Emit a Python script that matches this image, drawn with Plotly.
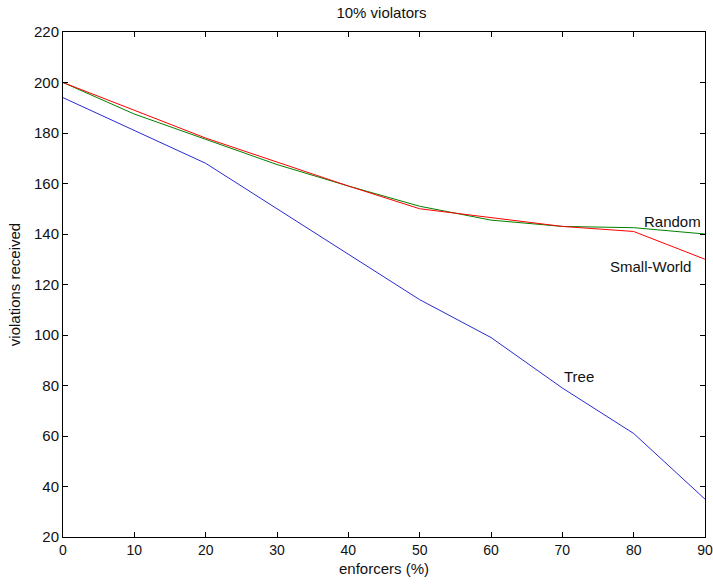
import plotly.graph_objects as go

enforcers = [0, 10, 20, 30, 40, 50, 60, 70, 80, 90]
random_net = [200, 187.5, 177.5, 167.5, 159, 151, 145.5, 143, 142.5, 140]
small_world = [200, 189, 178, 168.5, 159, 150, 146.5, 143, 141, 130]
tree = [194, 181, 168, 150, 132, 114, 99, 79, 61, 35]

x_ticks = [0, 10, 20, 30, 40, 50, 60, 70, 80, 90]
y_ticks = [20, 40, 60, 80, 100, 120, 140, 160, 180, 200, 220]

font_family = "Liberation Sans, Arial, sans-serif"
FS = 15

fig = go.Figure()
fig.add_trace(go.Scatter(x=enforcers, y=tree, mode="lines",
                         line=dict(color="#2a2ad0", width=1), name="Tree"))
fig.add_trace(go.Scatter(x=enforcers, y=random_net, mode="lines",
                         line=dict(color="#008000", width=1), name="Random"))
fig.add_trace(go.Scatter(x=enforcers, y=small_world, mode="lines",
                         line=dict(color="#ff0000", width=1), name="Small-World"))

annotations = [
    dict(x=85.4, y=145.0, text="Random"),
    dict(x=82.3, y=127.2, text="Small-World"),
    dict(x=72.3, y=83.4, text="Tree"),
]
for a in annotations:
    fig.add_annotation(x=a["x"], y=a["y"], text=a["text"], showarrow=False,
                       xref="x", yref="y",
                       font=dict(family=font_family, size=FS, color="#111"))

axis_common = dict(
    showline=True, linecolor="black", linewidth=1, mirror="ticks",
    ticks="inside", ticklen=5, tickcolor="black", tickwidth=1,
    showgrid=False, zeroline=False, automargin=False,
    ticklabeloverflow="allow",
)

fig.update_layout(
    width=713, height=586,
    margin=dict(l=63, r=8, t=32, b=49),
    paper_bgcolor="white", plot_bgcolor="white",
    showlegend=False,
    title=dict(text="10% violators", x=0.535, xanchor="center",
               y=1 - 12.5 / 586, yanchor="middle",
               font=dict(family=font_family, size=FS, color="#111")),
    xaxis=dict(range=[0, 90], tickvals=x_ticks,
               tickfont=dict(family=font_family, size=14, color="#111"),
               title=dict(text="enforcers (%)", standoff=6,
                          font=dict(family=font_family, size=FS, color="#111")),
               **axis_common),
    yaxis=dict(range=[20, 220], tickvals=y_ticks,
               tickfont=dict(family=font_family, size=FS, color="#111"),
               title=dict(text="violations received", standoff=9,
                          font=dict(family=font_family, size=FS, color="#111")),
               **axis_common),
)

fig.write_html("out.html",
               config={"displayModeBar": False},
               post_script="document.body.style.margin='0';document.body.style.overflow='hidden';")
